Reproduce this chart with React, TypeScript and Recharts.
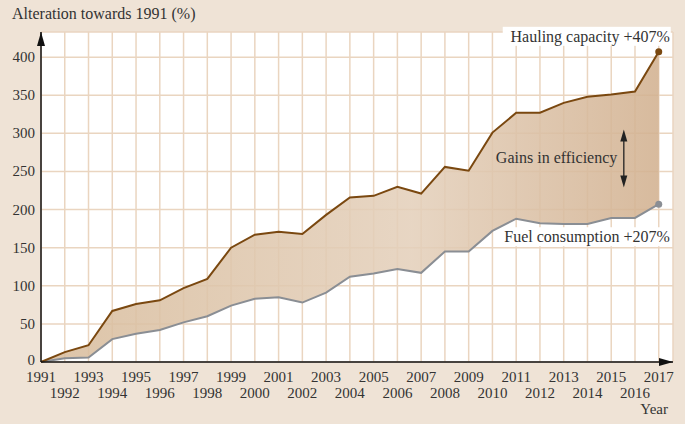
import React from 'react';
import {
  ComposedChart, Area, Line, XAxis, YAxis, CartesianGrid, ReferenceDot, ReferenceLine,
} from 'recharts';

const years = [1991, 1992, 1993, 1994, 1995, 1996, 1997, 1998, 1999, 2000, 2001, 2002, 2003, 2004,
  2005, 2006, 2007, 2008, 2009, 2010, 2011, 2012, 2013, 2014, 2015, 2016, 2017];
const hauling = [0, 13, 22, 67, 76, 81, 97, 109, 150, 167, 171, 168, 193, 216,
  218, 230, 221, 256, 251, 301, 327, 327, 340, 348, 351, 355, 407];
const fuel = [0, 5, 6, 30, 37, 42, 52, 60, 74, 83, 85, 78, 91, 112,
  116, 122, 117, 145, 145, 172, 188, 182, 181, 181, 189, 189, 207];
const yTicks = [0, 50, 100, 150, 200, 250, 300, 350, 400];

const data = years.map((y, i) => ({ year: y, hauling: hauling[i], fuel: fuel[i], band: [fuel[i], hauling[i]] }));

const FONT = '"Liberation Serif", "DejaVu Serif", serif';
const TXT = '#333';

const YearTick = (props: any) => {
  const { x, y, payload } = props;
  const odd = payload.value % 2 === 1;
  return (
    <text x={x} y={y + (odd ? 14 : 30)} textAnchor="middle" fontFamily={FONT} fontSize={15} fill={TXT}>
      {payload.value}
    </text>
  );
};

const ValueTick = (props: any) => {
  const { x, y, payload } = props;
  return (
    <text x={x} y={y + (payload.value === 0 ? 3 : 5)} textAnchor="end" fontFamily={FONT} fontSize={15} fill={TXT}>
      {payload.value}
    </text>
  );
};

const last = years.length - 1;

export default function App() {
  return (
    <div style={{ position: 'absolute', left: 0, top: 0, width: 685, height: 424, background: '#efe3d6' }}>
      <div style={{ position: 'absolute', left: 12, top: 5, fontFamily: FONT, fontSize: 16, color: TXT }}>
        Alteration towards 1991 (%)
      </div>
      <ComposedChart width={685} height={424} data={data} margin={{ top: 32, right: 12, left: 8, bottom: 0 }}>
        <defs>
          <linearGradient id="bandFill" x1="0" y1="0" x2="1" y2="0">
            <stop offset="0%" stopColor="#d8bc9c" />
            <stop offset="60%" stopColor="#e4d0bb" />
            <stop offset="100%" stopColor="#d2b190" />
          </linearGradient>
        </defs>
        <CartesianGrid stroke="#ead5c0" strokeWidth={1.5} fill="#ffffff" fillOpacity={1} />
        <Area dataKey="band" stroke="none" fill="url(#bandFill)" fillOpacity={0.88} isAnimationActive={false} />
        <XAxis
          dataKey="year" type="number" domain={[1991, 2017.6]} ticks={years} interval={0}
          height={62} tickLine={false} tickSize={0} tickMargin={6}
          axisLine={{ stroke: '#111', strokeWidth: 1.5 }} tick={<YearTick />}
          label={() => (
            <text x={668} y={414} textAnchor="end" fontFamily={FONT} fontSize={15} fill={TXT}>Year</text>
          )}
        />
        <YAxis
          domain={[0, 433]} ticks={yTicks} width={33} tickLine={false} tickSize={0} tickMargin={6}
          axisLine={{ stroke: '#111', strokeWidth: 1.5 }}
          tick={<ValueTick />}
        />
        <Line dataKey="fuel" stroke="#8a8e94" strokeWidth={2} dot={false} isAnimationActive={false} />
        <Line dataKey="hauling" stroke="#7a4810" strokeWidth={2} dot={false} isAnimationActive={false} />
        <ReferenceDot x={years[last]} y={hauling[last]} r={3.5} fill="#7a4810" stroke="none" />
        <ReferenceDot x={years[last]} y={fuel[last]} r={3.5} fill="#8a8e94" stroke="none" />
        <ReferenceDot
          x={years[last]} y={hauling[last]} ifOverflow="visible"
          shape={(p: any) => (
            <g>
              <rect x={p.cx - 156} y={p.cy - 25} width={168} height={19} fill="#fff" />
              <text x={p.cx + 11} y={p.cy - 10} textAnchor="end" fontFamily={FONT} fontSize={16} fill={TXT}>
                Hauling capacity  +407%
              </text>
            </g>
          )}
        />
        <ReferenceDot
          x={years[last]} y={fuel[last]} ifOverflow="visible"
          shape={(p: any) => (
            <g>
              <rect x={p.cx - 156} y={p.cy + 23} width={168} height={19} fill="#fff" />
              <text x={p.cx + 11} y={p.cy + 38} textAnchor="end" fontFamily={FONT} fontSize={16} fill={TXT}>
                Fuel consumption +207%
              </text>
            </g>
          )}
        />
        <ReferenceDot
          x={2012.7} y={268} ifOverflow="visible"
          shape={(p: any) => (
            <text x={p.cx} y={p.cy + 5} textAnchor="middle" fontFamily={FONT} fontSize={16} fill={TXT}>
              Gains in efficiency
            </text>
          )}
        />
        <ReferenceLine
          segment={[{ x: 2015.53, y: 305 }, { x: 2015.53, y: 229 }]}
          shape={(p: any) => (
            <g fill="#222" stroke="none">
              <line x1={p.x1} y1={p.y1 + 6} x2={p.x2} y2={p.y2 - 6} stroke="#222" strokeWidth={1.3} />
              <path d={`M${p.x1},${p.y1} L${p.x1 - 3.5},${p.y1 + 12} L${p.x1 + 3.5},${p.y1 + 12} Z`} />
              <path d={`M${p.x2},${p.y2} L${p.x2 - 3.5},${p.y2 - 12} L${p.x2 + 3.5},${p.y2 - 12} Z`} />
            </g>
          )}
        />
        <ReferenceDot
          x={1991} y={433} ifOverflow="visible"
          shape={(p: any) => <path d={`M${p.cx},${p.cy} L${p.cx - 4},${p.cy + 14} L${p.cx + 4},${p.cy + 14} Z`} fill="#111" />}
        />
        <ReferenceDot
          x={2017.6} y={0} ifOverflow="visible"
          shape={(p: any) => <path d={`M${p.cx},${p.cy} L${p.cx - 14},${p.cy - 4} L${p.cx - 14},${p.cy + 4} Z`} fill="#111" />}
        />
      </ComposedChart>
    </div>
  );
}
